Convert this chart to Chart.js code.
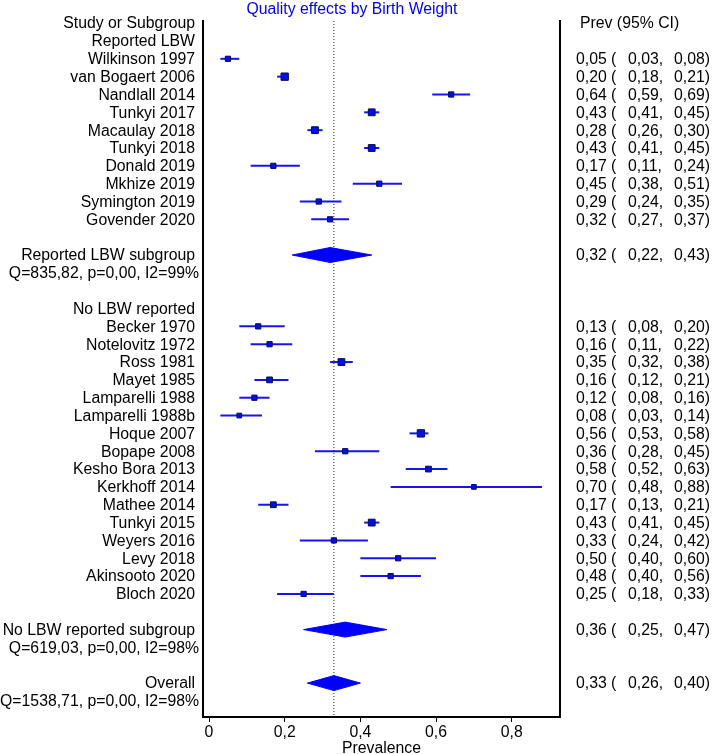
<!DOCTYPE html>
<html lang="en">
<head>
    <meta charset="UTF-8">
    <title>Quality effects by Birth Weight</title>
    <script src="https://cdn.jsdelivr.net/npm/chart.js@4/dist/chart.umd.min.js"></script>
    <style>
        body {
            margin: 0;
            background: #ffffff;
        }
        #forest {
            display: block;
        }
    </style>
</head>
<body>
    <canvas id="forest" width="712" height="754"></canvas>

    <script>
        // Data
        const groupNames = ['Reported LBW', 'No LBW reported'];

        const studyNames = [
            'Wilkinson 1997', 'van Bogaert 2006', 'Nandlall 2014', 'Tunkyi 2017', 'Macaulay 2018',
            'Tunkyi 2018', 'Donald 2019', 'Mkhize 2019', 'Symington 2019', 'Govender 2020',
            'Becker 1970', 'Notelovitz 1972', 'Ross 1981', 'Mayet 1985', 'Lamparelli 1988',
            'Lamparelli 1988b', 'Hoque 2007', 'Bopape 2008', 'Kesho Bora 2013', 'Kerkhoff 2014',
            'Mathee 2014', 'Tunkyi 2015', 'Weyers 2016', 'Levy 2018', 'Akinsooto 2020', 'Bloch 2020'
        ];
        const studyGroup = [0, 0, 0, 0, 0, 0, 0, 0, 0, 0,
                            1, 1, 1, 1, 1, 1, 1, 1, 1, 1, 1, 1, 1, 1, 1, 1];
        const prev  = [0.05, 0.20, 0.64, 0.43, 0.28, 0.43, 0.17, 0.45, 0.29, 0.32,
                       0.13, 0.16, 0.35, 0.16, 0.12, 0.08, 0.56, 0.36, 0.58, 0.70, 0.17, 0.43, 0.33, 0.50, 0.48, 0.25];
        const lower = [0.03, 0.18, 0.59, 0.41, 0.26, 0.41, 0.11, 0.38, 0.24, 0.27,
                       0.08, 0.11, 0.32, 0.12, 0.08, 0.03, 0.53, 0.28, 0.52, 0.48, 0.13, 0.41, 0.24, 0.40, 0.40, 0.18];
        const upper = [0.08, 0.21, 0.69, 0.45, 0.30, 0.45, 0.24, 0.51, 0.35, 0.37,
                       0.20, 0.22, 0.38, 0.21, 0.16, 0.14, 0.58, 0.45, 0.63, 0.88, 0.21, 0.45, 0.42, 0.60, 0.56, 0.33];
        // relative study weight (square size)
        const weight = [5, 7, 5, 6.5, 6.5, 6.5, 5, 5, 5, 5,
                        5, 5, 6.5, 5.5, 5, 4.5, 7, 5, 5.5, 4.5, 5.5, 6.5, 5, 5, 5, 5];

        const subNames = ['Reported LBW subgroup', 'No LBW reported subgroup'];
        const subPrev  = [0.32, 0.36];
        const subLower = [0.22, 0.25];
        const subUpper = [0.43, 0.47];
        const subStats = ['Q=835,82, p=0,00, I2=99%', 'Q=619,03, p=0,00, I2=98%'];

        const overallPrev  = 0.33;
        const overallLower = 0.26;
        const overallUpper = 0.40;
        const overallStats = 'Q=1538,71, p=0,00, I2=98%';

        const xTicks = [0, 0.2, 0.4, 0.6, 0.8];

        const fmt = v => v.toFixed(2).replace('.', ',');

        // Lay the rows out: header, groups with their studies, subgroup summaries, overall
        const rows = [{ row: 0, label: 'Study or Subgroup', header: true }];
        const studyRow = [];
        const diamonds = [];
        let r = 1;
        groupNames.forEach((g, gi) => {
            rows.push({ row: r++, label: g });
            studyNames.forEach((name, i) => {
                if (studyGroup[i] !== gi) return;
                studyRow[i] = r;
                rows.push({ row: r++, label: name, est: prev[i], lo: lower[i], hi: upper[i] });
            });
            r++;
            diamonds.push({ row: r, est: subPrev[gi], lo: subLower[gi], hi: subUpper[gi] });
            rows.push({ row: r++, label: subNames[gi], est: subPrev[gi], lo: subLower[gi], hi: subUpper[gi] });
            rows.push({ row: r++, label: subStats[gi], stat: true });
            r++;
        });
        diamonds.push({ row: r, est: overallPrev, lo: overallLower, hi: overallUpper });
        rows.push({ row: r++, label: 'Overall', est: overallPrev, lo: overallLower, hi: overallUpper });
        rows.push({ row: r++, label: overallStats, stat: true });
        const lastRow = r - 1;

        const yMin = -0.12;
        const yMax = lastRow + 0.9;
        const halfH = 0.42;   // diamond half height in rows
        const blue = '#0000ff';
        const FONT = '"Liberation Sans", Arial, Helvetica, sans-serif';
        const FSIZE = 15.8;

        Chart.defaults.font.family = FONT;
        Chart.defaults.font.size = FSIZE;
        Chart.defaults.color = '#000';

        // Squares
        const datasets = [{
            label: 'studies',
            data: prev.map((p, i) => ({ x: p, y: studyRow[i] })),
            showLine: false,
            pointStyle: 'rect',
            pointRadius: weight.map(w => w * 0.74),
            backgroundColor: '#0010e8',
            borderColor: '#0a0a50',
            borderWidth: 1
        }];

        // Reference line at overall estimate
        datasets.push({
            label: 'overall',
            data: [{ x: overallPrev, y: yMin }, { x: overallPrev, y: yMax }],
            borderColor: '#222',
            borderWidth: 1,
            borderDash: [1, 2],
            pointRadius: 0
        });

        // Confidence intervals
        prev.forEach((p, i) => {
            datasets.push({
                label: 'ci' + i,
                data: [{ x: lower[i], y: studyRow[i] }, { x: upper[i], y: studyRow[i] }],
                borderColor: '#1414f0',
                borderWidth: 2,
                pointRadius: 0
            });
        });

        // Diamonds
        diamonds.forEach((d, i) => {
            datasets.push({
                label: 'diamond' + i,
                data: [
                    { x: d.lo, y: d.row },
                    { x: d.est, y: d.row - halfH },
                    { x: d.hi, y: d.row },
                    { x: d.est, y: d.row + halfH },
                    { x: d.lo, y: d.row }
                ],
                borderColor: blue,
                backgroundColor: blue,
                borderWidth: 1,
                fill: 'shape',
                tension: 0,
                pointRadius: 0
            });
        });

        const textPlugin = {
            id: 'forestText',
            afterDraw(chart) {
                const ctx = chart.ctx;
                const y = chart.scales.y;
                const area = chart.chartArea;
                ctx.save();
                ctx.font = FSIZE + 'px ' + FONT;
                ctx.textBaseline = 'middle';
                ctx.fillStyle = '#000';

                rows.forEach(row => {
                    const py = y.getPixelForValue(row.row) + 1;
                    ctx.textAlign = 'right';
                    ctx.fillText(row.label, area.left - (row.stat ? 4 : 8), py);
                    if (row.est !== undefined) {
                        ctx.textAlign = 'left';
                        ctx.fillText(fmt(row.est), area.right + 16, py);
                        ctx.fillText('(', area.right + 51, py);
                        ctx.fillText(fmt(row.lo) + ',', area.right + 68, py);
                        ctx.fillText(fmt(row.hi) + ')', area.right + 114, py);
                    }
                    if (row.header) {
                        ctx.textAlign = 'left';
                        ctx.fillText('Prev (95% CI)', area.right + 20, py);
                    }
                });

                ctx.fillStyle = '#0000ee';
                ctx.textAlign = 'center';
                ctx.fillText('Quality effects by Birth Weight', 352, 10);
                ctx.restore();
            }
        };

        new Chart(document.getElementById('forest'), {
            type: 'line',
            data: { datasets: datasets },
            options: {
                responsive: false,
                animation: false,
                layout: {
                    padding: { left: 203, right: 152, top: 21, bottom: 0 }
                },
                plugins: {
                    legend: { display: false },
                    tooltip: { enabled: false }
                },
                scales: {
                    x: {
                        type: 'linear',
                        position: 'bottom',
                        min: -0.0159,
                        max: 0.9276,
                        afterBuildTicks: s => { s.ticks = xTicks.map(v => ({ value: v })); },
                        afterFit: s => { s.height = 37; },
                        ticks: {
                            callback: v => v === 0 ? '0' : v.toFixed(1).replace('.', ','),
                            color: '#000',
                            padding: 1,
                            maxRotation: 0,
                            autoSkip: false
                        },
                        grid: {
                            drawOnChartArea: false,
                            drawTicks: true,
                            tickLength: 5,
                            color: '#000'
                        },
                        border: { color: '#000', width: 2 },
                        title: {
                            display: true,
                            text: 'Prevalence',
                            color: '#000',
                            padding: { top: 0, bottom: -4 }
                        }
                    },
                    y: {
                        type: 'linear',
                        position: 'left',
                        reverse: true,
                        min: yMin,
                        max: yMax,
                        afterFit: s => { s.width = 0; },
                        ticks: { display: false },
                        grid: { drawOnChartArea: false, drawTicks: false },
                        border: { color: '#000', width: 2 }
                    },
                    y2: {
                        type: 'linear',
                        position: 'right',
                        reverse: true,
                        min: yMin,
                        max: yMax,
                        afterFit: s => { s.width = 0; },
                        ticks: { display: false },
                        grid: { drawOnChartArea: false, drawTicks: false },
                        border: { color: '#000', width: 2 }
                    }
                }
            },
            plugins: [textPlugin]
        });
    </script>
</body>
</html>
